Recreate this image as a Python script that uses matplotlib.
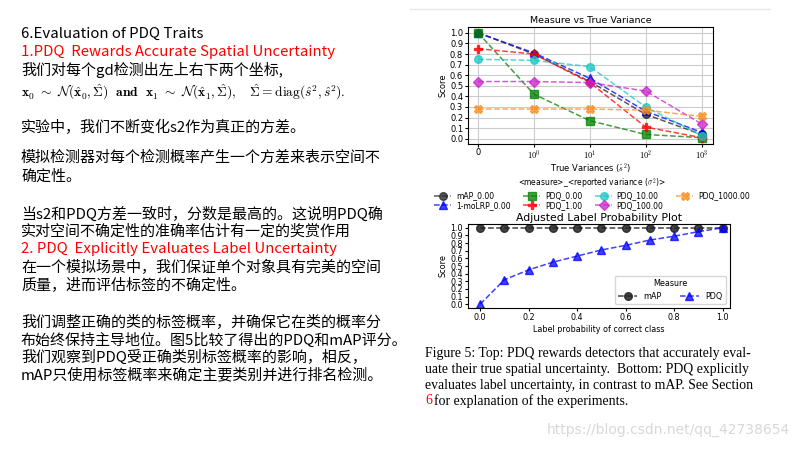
import matplotlib
matplotlib.use("Agg")
import matplotlib.pyplot as plt

W, H = 800, 450
CJK = ["Noto Sans CJK SC", "DejaVu Sans"]

# ── Data: top chart (score vs true variance) ─────────────────────────────
variances = [0, 1, 10, 100, 1000]
var_ticklabels = ["0", "$10^0$", "$10^1$", "$10^2$", "$10^3$"]
series_names = ["mAP_0.00", "1-moLRP_0.00", "PDQ_0.00", "PDQ_1.00",
                "PDQ_10.00", "PDQ_100.00", "PDQ_1000.00"]
map_scores = [1.00, 0.80, 0.54, 0.23, 0.04]
molrp_scores = [1.00, 0.81, 0.57, 0.26, 0.06]
pdq_000 = [1.00, 0.42, 0.17, 0.04, 0.01]
pdq_001 = [0.85, 0.80, 0.53, 0.11, 0.01]
pdq_010 = [0.75, 0.74, 0.68, 0.30, 0.03]
pdq_100 = [0.54, 0.54, 0.53, 0.45, 0.14]
pdq_1000 = [0.28, 0.28, 0.28, 0.27, 0.21]

# ── Data: bottom chart (adjusted label probability) ──────────────────────
label_probs = [0.0, 0.1, 0.2, 0.3, 0.4, 0.5, 0.6, 0.7, 0.8, 0.9, 1.0]
map_label = [1.0, 1.0, 1.0, 1.0, 1.0, 1.0, 1.0, 1.0, 1.0, 1.0, 1.0]
pdq_label = [0.00, 0.32, 0.45, 0.55, 0.63, 0.71, 0.77, 0.84, 0.89, 0.95, 1.00]

# ── Slide text ────────────────────────────────────────────────────────────
left_lines = [
    (34, "6.Evaluation of PDQ Traits", "black"),
    (52, "1.PDQ  Rewards Accurate Spatial Uncertainty", "red"),
    (70, "我们对每个gd检测出左上右下两个坐标,", "black"),
    (127, "实验中，我们不断变化s2作为真正的方差。", "black"),
    (158, "模拟检测器对每个检测概率产生一个方差来表示空间不", "black"),
    (177, "确定性。", "black"),
    (214, "当s2和PDQ方差一致时，分数是最高的。这说明PDQ确", "black"),
    (232, "实对空间不确定性的准确率估计有一定的奖赏作用", "black"),
    (249, "2. PDQ  Explicitly Evaluates Label Uncertainty", "red"),
    (267, "在一个模拟场景中，我们保证单个对象具有完美的空间", "black"),
    (285, "质量，进而评估标签的不确定性。", "black"),
    (322, "我们调整正确的类的标签概率，并确保它在类的概率分", "black"),
    (340, "布始终保持主导地位。图5比较了得出的PDQ和mAP评分。", "black"),
    (357, "我们观察到PDQ受正确类别标签概率的影响，相反，", "black"),
    (375, "mAP只使用标签概率来确定主要类别并进行排名检测。", "black"),
]
formula = (r"$\mathbf{x}_0\ \sim\ \mathcal{N}(\hat{\mathbf{x}}_0,\hat{\Sigma})"
           r"\ \ \mathbf{and}\ \ \mathbf{x}_1\ \sim\ \mathcal{N}(\hat{\mathbf{x}}_1,\hat{\Sigma}),"
           r"\ \ \ \hat{\Sigma}=\mathrm{diag}(\hat{s}^2,\hat{s}^2).$")
caption_lines = [
    "Figure 5: Top: PDQ rewards detectors that accurately eval-",
    "uate their true spatial uncertainty.  Bottom: PDQ explicitly",
    "evaluates label uncertainty, in contrast to mAP. See Section",
]


def fx(x):
    return x / W


def fy(y):
    return 1 - y / H


plt.rcParams["mathtext.fontset"] = "cm"
fig = plt.figure(figsize=(8, 4.5), dpi=100)
fig.patch.set_facecolor("white")

for y, txt, col in left_lines:
    fig.text(fx(21), fy(y), txt, color=col, fontsize=10.8, family=CJK, va="center")
fig.text(fx(21), fy(92), formula, fontsize=9.7, va="center")

# faint frame line of the pasted figure
fig.add_artist(plt.Line2D([fx(410), fx(770)], [fy(9), fy(9)], color="#e6e6e6", lw=1))

# ── Top chart ─────────────────────────────────────────────────────────────
ax1 = fig.add_axes([fx(468), fy(144), (713 - 468) / W, (144 - 27) / H])
styles = [
    (map_scores, "#222222", "o"),
    (molrp_scores, "blue", "^"),
    (pdq_000, "green", "s"),
    (pdq_001, "red", "P"),
    (pdq_010, "#17c7c7", "o"),
    (pdq_100, "#cc22cc", "D"),
    (pdq_1000, "#ff8c1a", "X"),
]
handles = []
for (vals, col, mk), name in zip(styles, series_names):
    h, = ax1.plot(variances, vals, linestyle="--", color=col, marker=mk,
                  markersize=5.5, lw=1.1, alpha=0.75, label=name)
    handles.append(h)
ax1.set_xscale("symlog", linthresh=1, linscale=0.9)
ax1.set_xlim(-0.18, 1600)
ax1.set_ylim(-0.05, 1.055)
ax1.set_xticks(variances)
ax1.set_xticklabels(var_ticklabels)
ax1.set_yticks([i / 10 for i in range(11)])
ax1.tick_params(labelsize=6, length=2, pad=1.5)
ax1.tick_params(axis="x", pad=1)
ax1.grid(True, color="#cccccc", lw=0.8)
ax1.set_title("Measure vs True Variance", fontsize=6.8, pad=3)
ax1.set_xlabel(r"True Variances ($\hat{s}^2$)", fontsize=6, labelpad=0)
ax1.set_ylabel("Score", fontsize=6, labelpad=2)

fig.legend(handles=handles, ncol=4, loc="center", bbox_to_anchor=(fx(592), fy(193)),
           frameon=False, fontsize=5.5, title=r"<measure>_<reported variance ($\sigma^2$)>",
           title_fontsize=5.5, handlelength=2.2, columnspacing=1.7, labelspacing=0.1,
           borderpad=0.1, handletextpad=0.6)

# ── Bottom chart ──────────────────────────────────────────────────────────
ax2 = fig.add_axes([fx(468), fy(308), (730 - 468) / W, (308 - 224) / H])
ax2.plot(label_probs, map_label, linestyle="--", color="#222222", marker="o",
         markersize=5.5, lw=1.1, alpha=0.85, label="mAP")
ax2.plot(label_probs, pdq_label, linestyle="--", color="blue", marker="^",
         markersize=5.5, lw=1.1, alpha=0.75, label="PDQ")
ax2.set_xlim(-0.05, 1.03)
ax2.set_ylim(-0.05, 1.05)
ax2.set_yticks([i / 10 for i in range(11)])
ax2.set_xticks([0.0, 0.2, 0.4, 0.6, 0.8, 1.0])
ax2.tick_params(labelsize=5.8, length=2, pad=1.5)
ax2.set_title("Adjusted Label Probability Plot", fontsize=7.8, pad=2)
ax2.set_xlabel("Label probability of correct class", fontsize=5.8, labelpad=2)
ax2.set_ylabel("Score", fontsize=5.8, labelpad=2)
ax2.legend(title="Measure", ncol=2, loc="lower right", fontsize=5.8, title_fontsize=5.8,
           handlelength=2.4, columnspacing=2.2, borderpad=0.4)

# ── Caption ───────────────────────────────────────────────────────────────
for i, line in enumerate(caption_lines):
    fig.text(fx(425), fy(353 + 16 * i), line, fontsize=9.9, family="Liberation Serif",
             va="center")
fig.text(fx(425), fy(401), "6", fontsize=9.9, family="Liberation Serif",
         va="center", color="red")
fig.text(fx(434), fy(401), "for explanation of the experiments.", fontsize=9.9,
         family="Liberation Serif", va="center")

fig.text(fx(547), fy(430), "https://blog.csdn.net/qq_42738654", fontsize=10,
         color="#d8d8d8", va="center")

fig.savefig("out.png", dpi=100)
